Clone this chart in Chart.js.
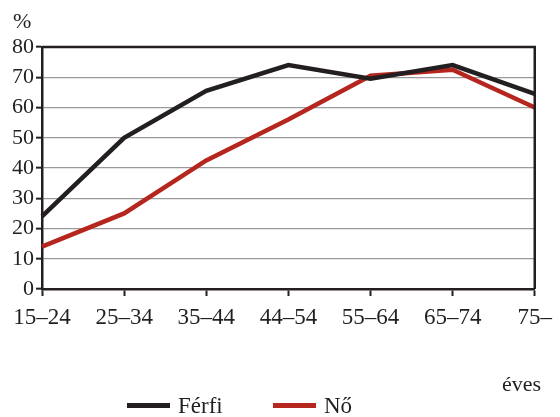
<!DOCTYPE html>
<html><head><meta charset="utf-8">
<script src="https://cdn.jsdelivr.net/npm/chart.js@4"></script>
<style>
html,body{margin:0;padding:0;background:#fff;}
#wrap{position:relative;width:560px;height:417px;font-family:"Liberation Serif","DejaVu Serif",serif;color:#231f20;}
canvas{position:absolute;left:0;top:0;}
.lbl{position:absolute;font-size:22px;line-height:1;}
.leg{position:absolute;height:5px;width:43px;}
</style></head><body>
<div id="wrap">
<canvas id="c" width="560" height="417"></canvas>
<div class="lbl" style="left:13px;top:10px;">%</div>
<div class="lbl" style="left:502px;top:373px;">éves</div>
<div class="leg" style="left:127px;top:403px;background:#231f20;"></div>
<div class="lbl" style="left:178px;top:394px;font-size:23px;">Férfi</div>
<div class="leg" style="left:273px;top:403px;background:#b5261e;"></div>
<div class="lbl" style="left:324px;top:394px;font-size:23px;">Nő</div>
</div>
<script>
const categories = ["15–24","25–34","35–44","44–54","55–64","65–74","75–"];
const ferfi = [24, 50, 65.5, 74, 69.5, 74, 64.5];
const no = [14, 25, 42.5, 56, 70.5, 72.5, 60];
const yTicks = [0,10,20,30,40,50,60,70,80];

const frame = {
  id:'frame',
  afterDatasetsDraw(chart){
    const a = chart.chartArea, ctx = chart.ctx;
    ctx.save();
    ctx.strokeStyle = '#231f20';
    ctx.lineWidth = 2.5;
    ctx.beginPath();
    ctx.moveTo(a.left, a.top); ctx.lineTo(a.right, a.top); ctx.lineTo(a.right, a.bottom);
    ctx.stroke();
    ctx.restore();
  }
};

new Chart(document.getElementById('c'), {
  type:'line',
  data:{labels:categories, datasets:[
    {label:'Férfi', data:ferfi, borderColor:'#231f20', borderWidth:4.5, pointRadius:0, tension:0, fill:false},
    {label:'Nő', data:no, borderColor:'#b5261e', borderWidth:4.5, pointRadius:0, tension:0, fill:false}
  ]},
  options:{
    responsive:false, animation:false,
    layout:{padding:{top:47, right:24, left:0, bottom:0}},
    plugins:{legend:{display:false}, tooltip:{enabled:false}},
    scales:{
      x:{
        offset:false,
        grid:{drawOnChartArea:false, tickLength:7, tickColor:'#231f20', tickWidth:2},
        border:{color:'#231f20', width:2.5},
        ticks:{font:{family:'Liberation Serif', size:23}, color:'#231f20', padding:8, maxRotation:0, autoSkip:false},
        afterFit(s){ s.height = 128; }
      },
      y:{
        min:0, max:80,
        afterBuildTicks(s){ s.ticks = yTicks.map(v=>({value:v})); },
        grid:{color:'#9a9a9a', lineWidth:1.3, tickLength:6, tickColor:'#231f20', tickWidth:2},
        border:{color:'#231f20', width:2.5},
        ticks:{font:{family:'Liberation Serif', size:22}, color:'#231f20', padding:2},
        afterFit(s){ s.width = 42; }
      }
    }
  },
  plugins:[frame]
});
</script>
</body></html>
